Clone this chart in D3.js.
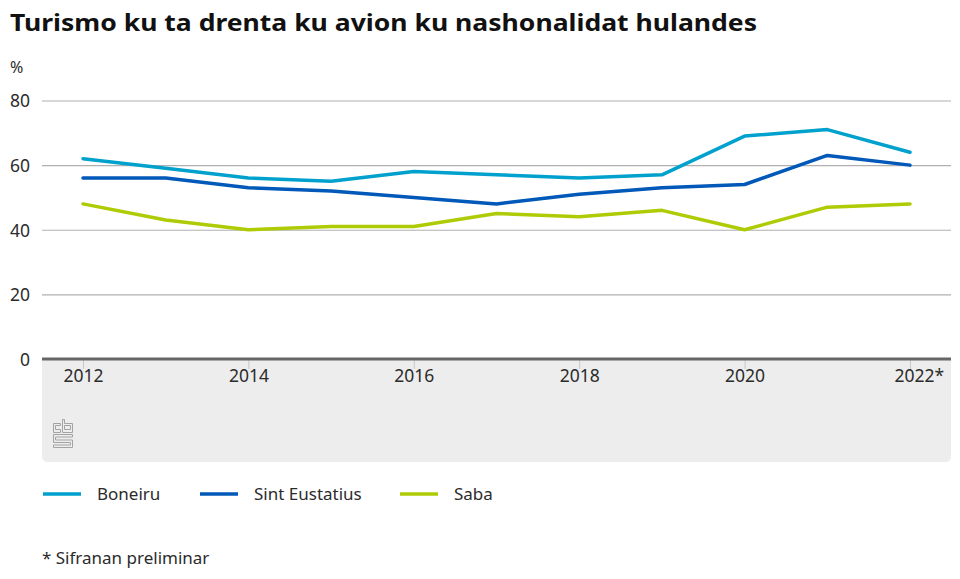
<!DOCTYPE html>
<html><head><meta charset="utf-8">
<script src="https://cdn.jsdelivr.net/npm/d3@7"></script>
<style>body{margin:0;background:#fff}svg{display:block}text{font-family:"Noto Sans",sans-serif}</style>
</head><body>
<svg id="c" width="960" height="579"></svg>
<script>
const years = [2012,2013,2014,2015,2016,2017,2018,2019,2020,2021,2022];
const tickYears = [2012,2014,2016,2018,2020,2022];
const tickLabels = ["2012","2014","2016","2018","2020","2022*"];
const yTicks = [0,20,40,60,80];
const seriesNames = ["Boneiru","Sint Eustatius","Saba"];
const seriesColors = ["#00a1cd","#0058b8","#afcb05"];
const boneiru = [62,59,56,55,58,57,56,57,69,71,64];
const sintEustatius = [56,56,53,52,50,48,51,53,54,63,60];
const saba = [48,43,40,41,41,45,44,46,40,47,48];
const seriesValues = [boneiru, sintEustatius, saba];

const svg = d3.select("#c");
const x = d3.scaleLinear().domain([2012,2022]).range([83,910]);
const y = d3.scaleLinear().domain([0,80]).range([359,100.5]);
const left = 42, right = 951;
const txt = "#2b2b2b";

svg.append("text").attr("x",10).attr("y",31).text("Turismo ku ta drenta ku avion ku nashonalidat hulandes")
  .attr("font-size",24).attr("font-weight","bold").attr("fill","#111").style("font-family","'Noto Sans',sans-serif").attr("textLength",747).attr("lengthAdjust","spacingAndGlyphs");
svg.append("text").attr("x",10).attr("y",73).text("%").attr("font-size",16).attr("fill",txt);

// bottom band
svg.append("path").attr("fill","#ededed")
  .attr("d",`M${left},359 H${right} V${456} Q${right},462 ${right-6},462 H${left+6} Q${left},462 ${left},456 Z`);

// grid
const yAxis = d3.axisLeft(y).tickValues(yTicks).tickSize(-(right-left)).tickFormat(d3.format("d"));
const gy = svg.append("g").attr("transform",`translate(${left},0)`).call(yAxis);
gy.select(".domain").remove();
gy.selectAll(".tick line").attr("stroke","#b0b0b0").attr("stroke-width",1.2);
gy.selectAll(".tick text").attr("x",-12).attr("dy","0.36em").attr("font-size",17.5).attr("fill",txt).style("font-family","'Noto Sans',sans-serif");

// x axis
const xAxis = d3.axisBottom(x).tickValues(tickYears).tickSize(10).tickFormat((d,i)=>tickLabels[i]);
const gx = svg.append("g").attr("transform","translate(0,359)").call(xAxis);
gx.select(".domain").remove();
gx.selectAll(".tick line").attr("stroke","#c8c8c8").attr("stroke-width",1);
gx.selectAll(".tick text").attr("y",11).attr("dy","0.71em").attr("font-size",17.5).attr("fill",txt).style("font-family","'Noto Sans',sans-serif");
gx.selectAll(".tick").filter((d)=>d===2022).select("text").attr("dx","0.5em");

// lines
const line = d3.line().x((d,i)=>x(years[i])).y(d=>y(d));
seriesValues.forEach((vals,k)=>{
  svg.append("path").datum(vals).attr("d",line).attr("fill","none")
    .attr("stroke",seriesColors[k]).attr("stroke-width",3.5).attr("stroke-linejoin","round").attr("stroke-linecap","round");
});

// zero axis line
svg.append("line").attr("x1",left).attr("x2",right).attr("y1",359).attr("y2",359).attr("stroke","#666").attr("stroke-width",3);

// cbs logo
const lg = svg.append("g").attr("transform","translate(53,419)").attr("fill","none").attr("stroke","#a3a3a3").attr("stroke-width",1);
lg.append("path").attr("d","M0.5,4.5 H7.5 V6.5 H2.5 V10.5 H7.5 V13.5 H0.5 Z");
lg.append("path").attr("d","M9.5,0.5 H11.5 V4.5 H19.5 V13.5 H9.5 Z M11.5,6.5 V10.5 H17.5 V6.5 Z");
lg.append("path").attr("d","M0.5,15.5 H19.5 V18 H2.5 V21 H19.5 V28.5 H0.5 V26 H17.5 V23.5 H0.5 Z");

// legend
const legX = [43,200,400];
seriesNames.forEach((n,k)=>{
  svg.append("line").attr("x1",legX[k]).attr("x2",legX[k]+38).attr("y1",494).attr("y2",494)
    .attr("stroke",seriesColors[k]).attr("stroke-width",3.5);
  svg.append("text").attr("x",legX[k]+54).attr("y",500).text(n).attr("font-size",17).attr("fill",txt);
});
svg.append("text").attr("x",42).attr("y",564).text("* Sifranan preliminar").attr("font-size",17).attr("fill",txt);
</script>
</body></html>
